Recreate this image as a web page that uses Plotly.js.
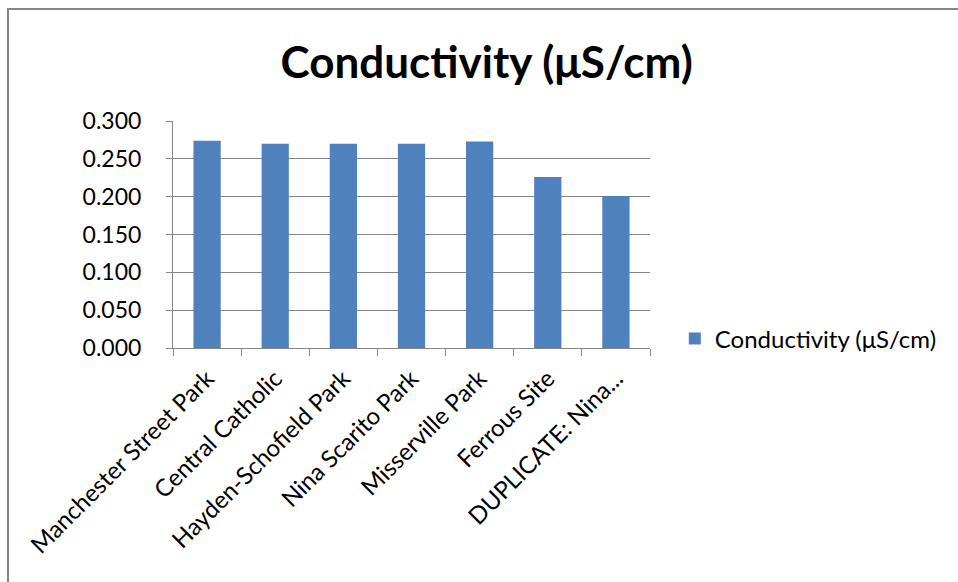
<!DOCTYPE html>
<html>
<head>
<meta charset="utf-8">
<script src="https://cdn.plot.ly/plotly-3.0.1.min.js"></script>
<style>
  html, body { margin: 0; padding: 0; background: #fff; }
  #wrap { position: relative; width: 958px; height: 582px; overflow: hidden; }
  #chart { position: absolute; left: 0; top: 0; width: 958px; height: 582px; }
  #frame { position: absolute; left: 7px; top: 8px; width: 970px; height: 600px;
           border-left: 2px solid #868686; border-top: 2px solid #868686; pointer-events: none; }
</style>
</head>
<body>
<div id="wrap">
  <div id="chart"></div>
  <div id="frame"></div>
</div>
<script>
const categories = [
  "Manchester Street Park",
  "Central Catholic",
  "Hayden-Schofield Park",
  "Nina Scarito Park",
  "Misserville Park",
  "Ferrous Site",
  "DUPLICATE: Nina..."
];
const conductivity = [0.274, 0.270, 0.270, 0.270, 0.273, 0.226, 0.201];
const seriesName = "Conductivity (μS/cm)";
const titleText = "Conductivity (μS/cm)";
const yTicks = [0, 0.05, 0.1, 0.15, 0.2, 0.25, 0.3];

const font = "Lato, 'Open Sans', sans-serif";

const data = [{
  type: "bar",
  x: categories,
  y: conductivity,
  name: seriesName,
  marker: { color: "#4F81BD" },
  showlegend: true
}];

const layout = {
  width: 958,
  height: 582,
  paper_bgcolor: "#ffffff",
  plot_bgcolor: "#ffffff",
  margin: { l: 173, r: 308, t: 121, b: 234, pad: 0 },
  font: { family: font, color: "#000000", size: 23 },
  title: {
    text: "<b>" + titleText + "</b>",
    font: { family: font, size: 44, color: "#000000" },
    xref: "container", yref: "container",
    x: 0.508, xanchor: "center",
    y: 0.893, yanchor: "middle"
  },
  bargap: 0.6,
  xaxis: {
    type: "category",
    tickangle: -45,
    tickson: "boundaries",
    ticks: "outside",
    ticklen: 7,
    tickcolor: "#868686",
    tickwidth: 1,
    showline: true,
    linecolor: "#868686",
    linewidth: 1,
    showgrid: false,
    ticklabelstandoff: 6,
    tickfont: { family: font, size: 24, color: "#000000" }
  },
  yaxis: {
    range: [0, 0.3],
    tickvals: yTicks,
    tickformat: ".3f",
    ticks: "outside",
    ticklen: 6,
    tickcolor: "#868686",
    showline: true,
    linecolor: "#868686",
    linewidth: 1,
    showgrid: true,
    gridcolor: "#868686",
    gridwidth: 1,
    zeroline: false,
    ticklabelstandoff: 20,
    tickfont: { family: font, size: 23, color: "#000000" }
  },
  showlegend: true,
  legend: {
    x: 1.052, xanchor: "left",
    y: 0.04, yanchor: "middle",
    font: { family: font, size: 24, color: "#000000" },
    bgcolor: "rgba(0,0,0,0)"
  }
};

Plotly.newPlot("chart", data, layout, { displayModeBar: false, staticPlot: true });
</script>
</body>
</html>
